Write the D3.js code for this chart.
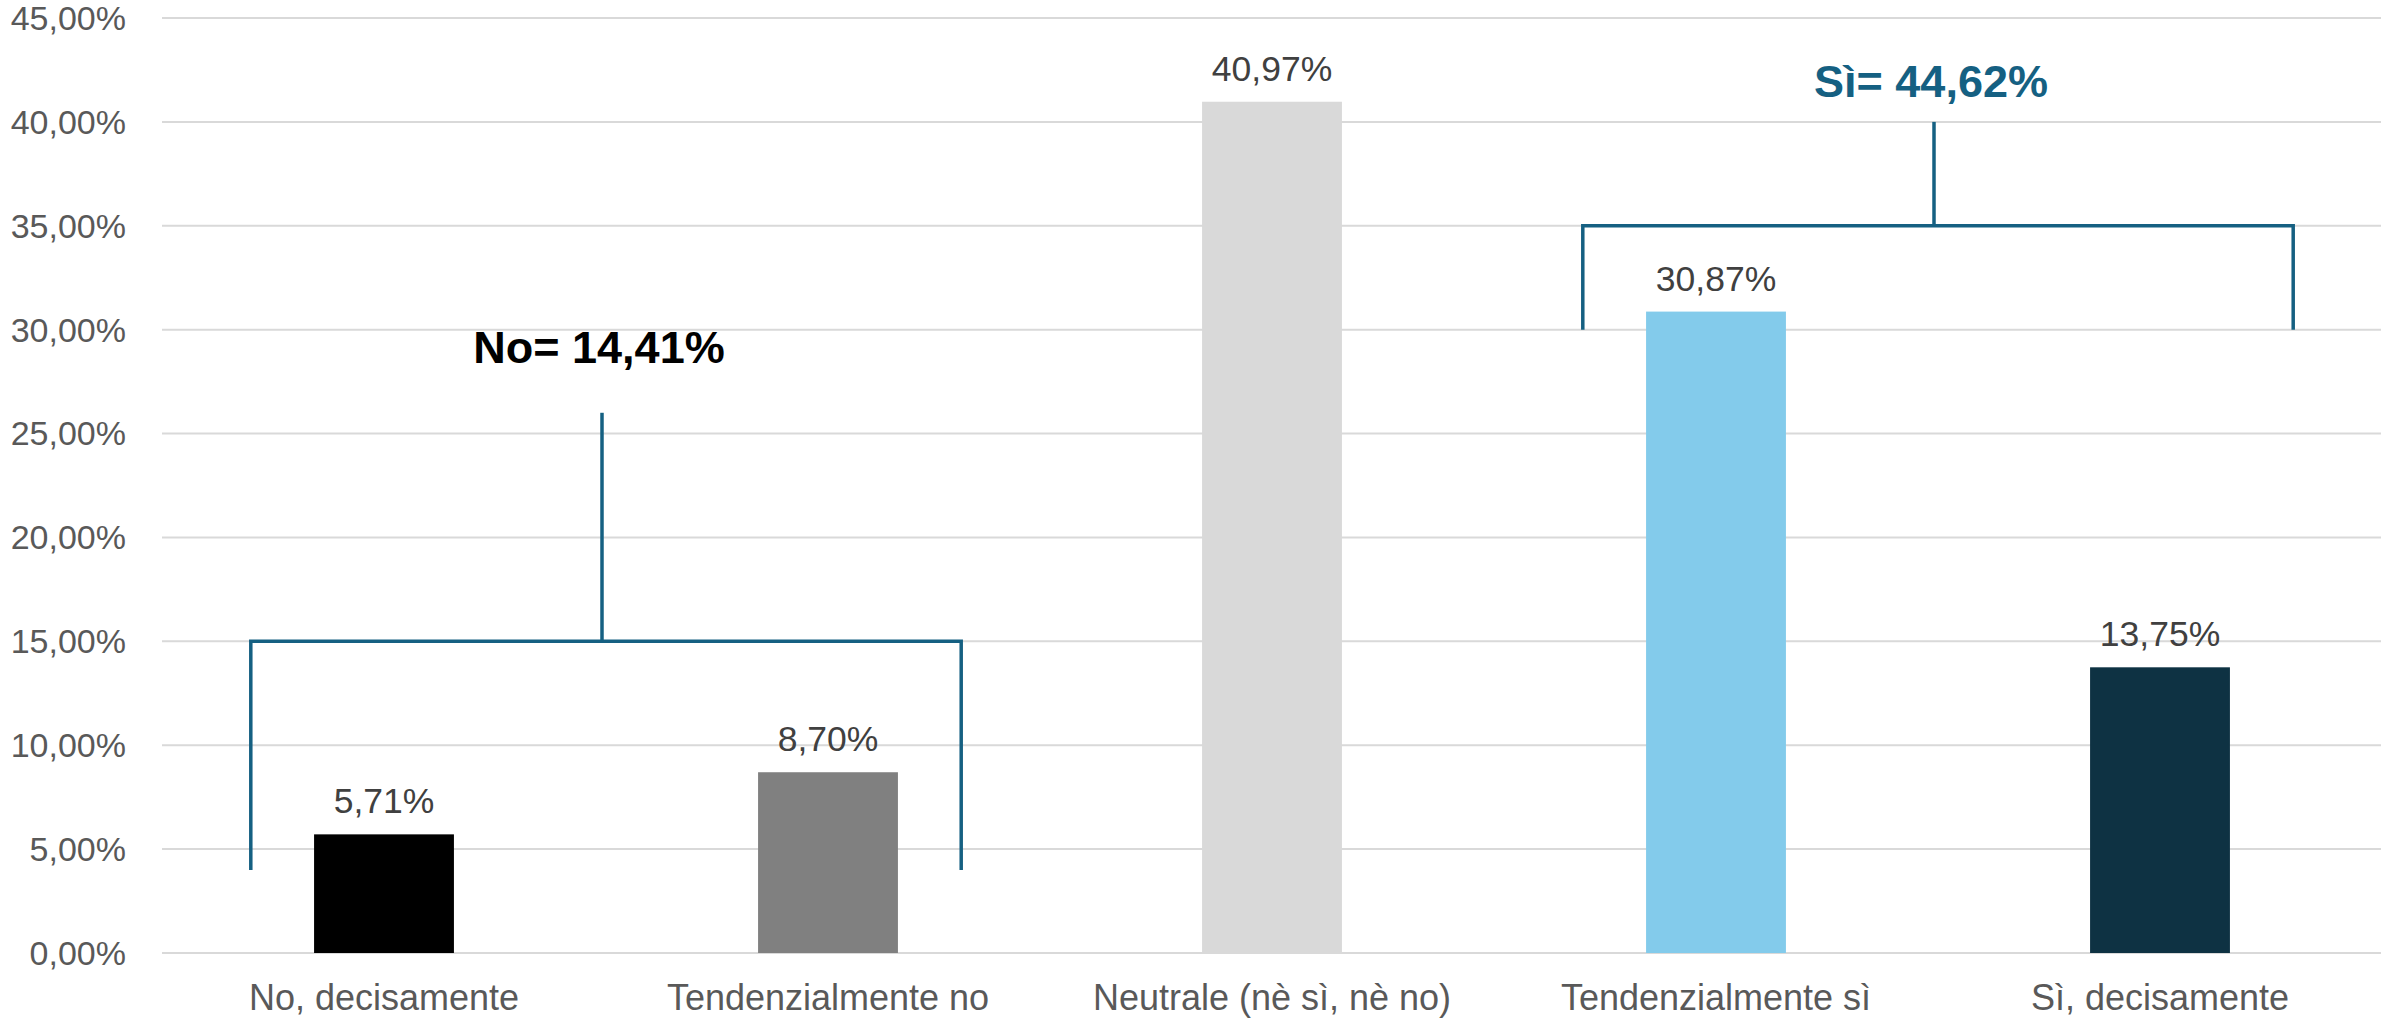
<!DOCTYPE html>
<html>
<head>
<meta charset="utf-8">
<script src="https://cdn.jsdelivr.net/npm/d3@7"></script>
<style>
  html, body { margin: 0; padding: 0; background: #fff; }
  svg { display: block; font-family: "Liberation Sans", Arial, sans-serif; }
</style>
</head>
<body>
<div id="chart"></div>
<script>
// Chart data
const categories = ['No, decisamente', 'Tendenzialmente no', 'Neutrale (nè sì, nè no)', 'Tendenzialmente sì', 'Sì, decisamente'];
const values = [5.71, 8.70, 40.97, 30.87, 13.75];
const barColors = ['#000000', '#808080', '#d9d9d9', '#83cbeb', '#0e3243'];
const yTicks = [0, 5, 10, 15, 20, 25, 30, 35, 40, 45];

// Group brackets (levels in percent units)
const groupLabels = ['No= 14,41%', 'Sì= 44,62%'];
const groupFrom = [0, 3];
const groupTo = [1, 4];
const groupBottom = [4, 30];
const groupBar = [15, 35];
const groupTop = [26, 40];
const groupLabelLevel = [28.4, 41.2];
const groupTextColors = ['#000000', '#156082'];

const width = 2381;
const height = 1024;

const svg = d3.select('#chart').append('svg')
    .attr('width', width)
    .attr('height', height);

// Scales
const x = d3.scaleBand()
    .domain(categories)
    .range([162, 2382])
    .paddingInner(0.685)
    .paddingOuter(0.3425);

const y = d3.scaleLinear()
    .domain([0, 45])
    .range([953, 18]);

const locale = d3.formatLocale({ decimal: ',', thousands: '.', grouping: [3], currency: ['', '€'] });
const fmtPct = v => locale.format('.2f')(v) + '%';

// Gridlines
svg.append('g')
    .selectAll('line')
    .data(yTicks)
    .enter()
    .append('line')
    .attr('x1', 162)
    .attr('x2', width)
    .attr('y1', d => y(d))
    .attr('y2', d => y(d))
    .attr('stroke', '#d9d9d9')
    .attr('stroke-width', 2);

// Y axis labels
svg.append('g')
    .selectAll('text')
    .data(yTicks)
    .enter()
    .append('text')
    .attr('x', 126)
    .attr('y', d => y(d))
    .attr('dy', '0.35em')
    .attr('text-anchor', 'end')
    .style('font-size', '34px')
    .style('fill', '#595959')
    .text(d => fmtPct(d));

// Bars
svg.append('g')
    .selectAll('rect')
    .data(values)
    .enter()
    .append('rect')
    .attr('x', (d, i) => x(categories[i]))
    .attr('y', d => y(d))
    .attr('width', x.bandwidth())
    .attr('height', d => y(0) - y(d))
    .attr('fill', (d, i) => barColors[i]);

// Value labels
svg.append('g')
    .selectAll('text')
    .data(values)
    .enter()
    .append('text')
    .attr('x', (d, i) => x(categories[i]) + x.bandwidth() / 2)
    .attr('y', d => y(d) - 21)
    .attr('text-anchor', 'middle')
    .style('font-size', '35.5px')
    .style('fill', '#404040')
    .text(d => fmtPct(d));

// Category labels
svg.append('g')
    .selectAll('text')
    .data(categories)
    .enter()
    .append('text')
    .attr('x', d => x(d) + x.bandwidth() / 2)
    .attr('y', 1010)
    .attr('text-anchor', 'middle')
    .style('font-size', '36px')
    .style('fill', '#595959')
    .text(d => d);

// Brackets
const step = x.step();
const center = i => x(categories[i]) + x.bandwidth() / 2;
const brackets = svg.append('g');

groupLabels.forEach((label, g) => {
    const xl = center(groupFrom[g]) - 0.3 * step;
    const xr = center(groupTo[g]) + 0.3 * step;
    const xm = (xl + xr) / 2 - 4;

    brackets.append('path')
        .attr('d', `M${xl},${y(groupBottom[g])}V${y(groupBar[g])}H${xr}V${y(groupBottom[g])}`)
        .attr('fill', 'none')
        .attr('stroke', '#156082')
        .attr('stroke-width', 3.5);

    brackets.append('line')
        .attr('x1', xm)
        .attr('x2', xm)
        .attr('y1', y(groupBar[g]))
        .attr('y2', y(groupTop[g]))
        .attr('stroke', '#156082')
        .attr('stroke-width', 3.5);

    brackets.append('text')
        .attr('x', xm - 3)
        .attr('y', y(groupLabelLevel[g]))
        .attr('text-anchor', 'middle')
        .style('font-size', '45px')
        .style('font-weight', 'bold')
        .style('fill', groupTextColors[g])
        .text(label);
});
</script>
</body>
</html>
